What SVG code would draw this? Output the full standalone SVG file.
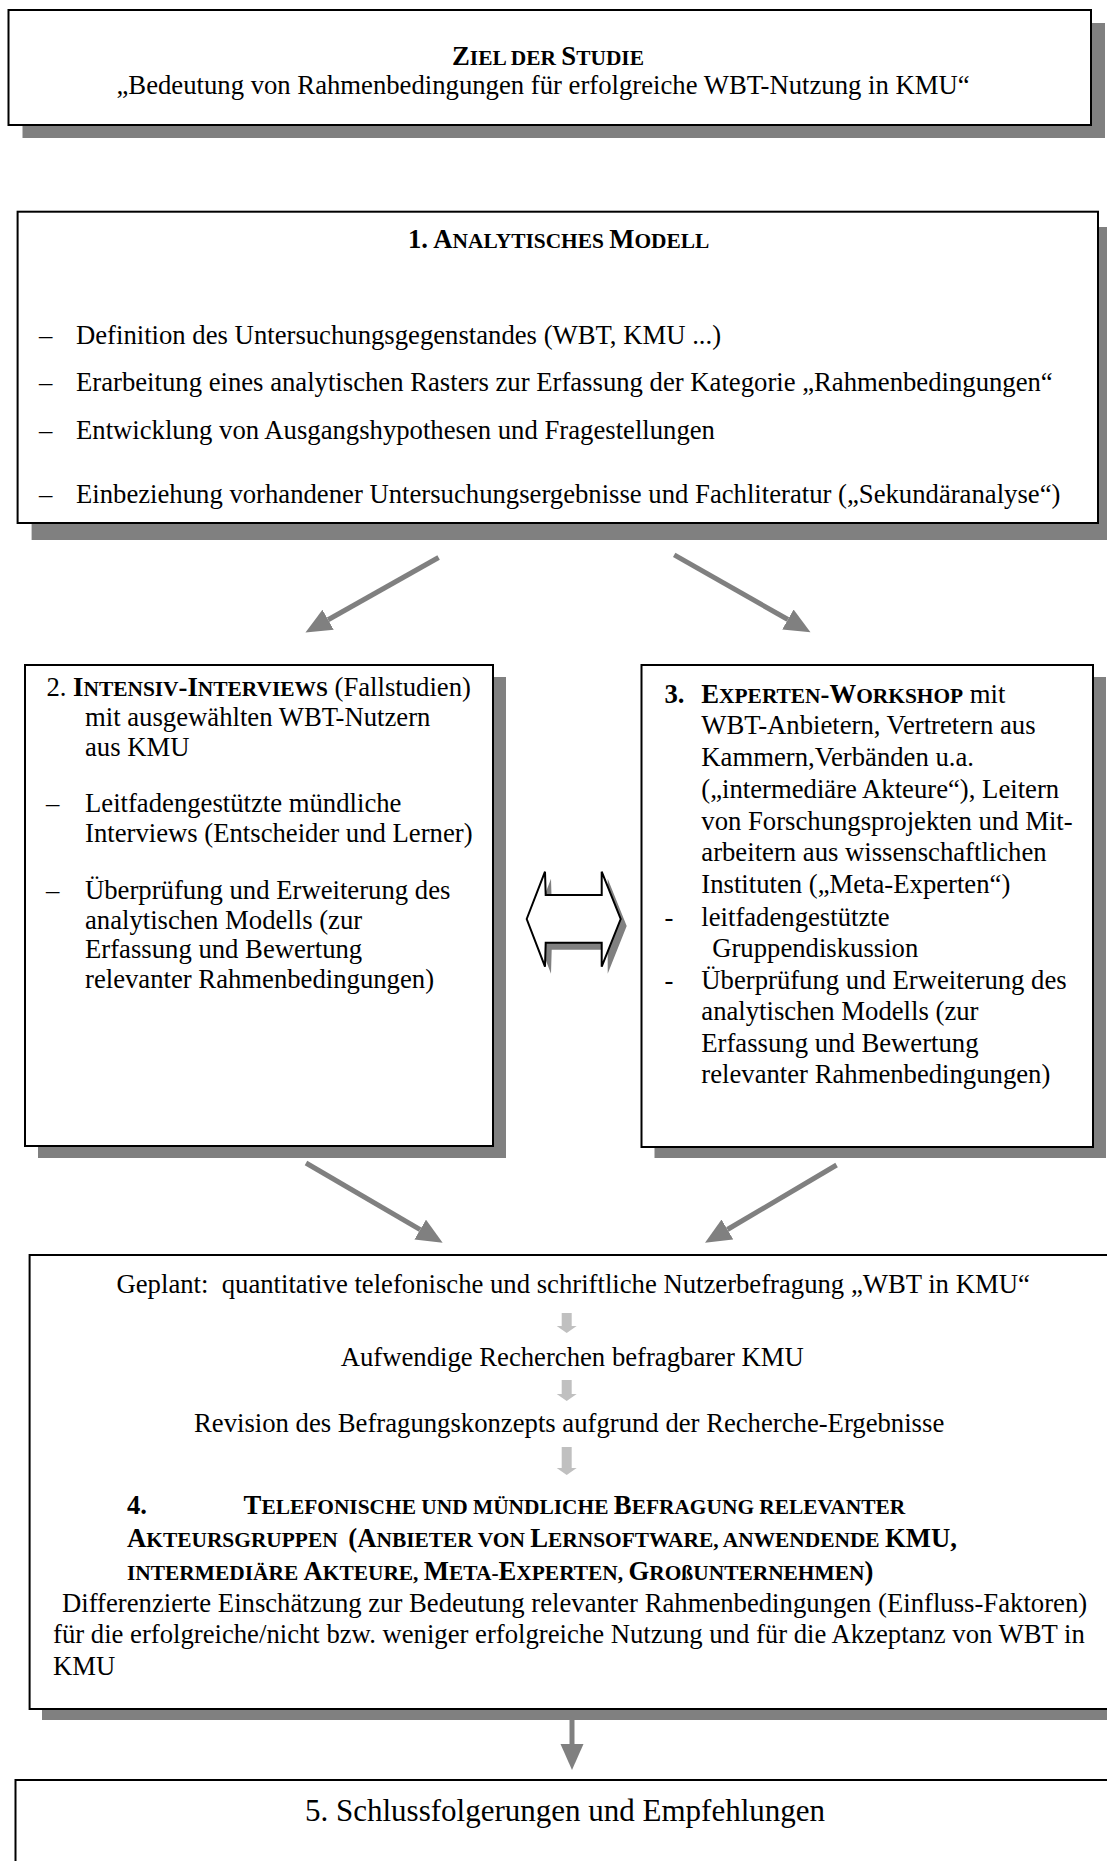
<svg xmlns="http://www.w3.org/2000/svg" width="1107" height="1861" viewBox="0 0 1107 1861">
<style>
.box{fill:#fff;stroke:#000;stroke-width:2}
.sh{fill:#808080}
.t{font-family:'Liberation Serif', 'Times New Roman', serif;font-size:26.7px;fill:#000}
.b{font-weight:bold}
.sc{font-size:21.4px}
.big{font-size:31px}
.conn{stroke:#808080;stroke-width:5;fill:none}
.ah{fill:#808080}
.lite{fill:#c0c0c0}
</style>
<defs>
<marker id="head" markerUnits="userSpaceOnUse" markerWidth="27" markerHeight="24" refX="0" refY="11.5" orient="auto" viewBox="0 0 27 24">
<path d="M0,0 L26,11.5 L0,23 z" class="ah"/>
</marker>
</defs>
<rect width="1107" height="1861" fill="#fff"/>

<g id="node-ziel">
<rect class="sh" x="22.5" y="23" width="1082.5" height="115"/>
<rect class="box" x="8.5" y="10" width="1082.5" height="115"/>
<text class="t b" x="452" y="65">Z<tspan class="sc">IEL DER </tspan>S<tspan class="sc">TUDIE</tspan></text>
<text class="t" x="116.5" y="94.3">„Bedeutung von Rahmenbedingungen für erfolgreiche WBT-Nutzung in KMU“</text>
</g>

<g id="node-modell">
<rect class="sh" x="31.6" y="227" width="1080.4" height="313"/>
<rect class="box" x="17.6" y="211.7" width="1080.4" height="311.3"/>
<text class="t b" x="408" y="248">1. A<tspan class="sc">NALYTISCHES </tspan>M<tspan class="sc">ODELL</tspan></text>
<text class="t" x="39" y="344">–</text>
<text class="t" x="76" y="344">Definition des Untersuchungsgegenstandes (WBT, KMU ...)</text>
<text class="t" x="39" y="390.7">–</text>
<text class="t" x="76" y="390.7">Erarbeitung eines analytischen Rasters zur Erfassung der Kategorie „Rahmenbedingungen“</text>
<text class="t" x="39" y="439">–</text>
<text class="t" x="76" y="439">Entwicklung von Ausgangshypothesen und Fragestellungen</text>
<text class="t" x="39" y="502.7">–</text>
<text class="t" x="76" y="502.7">Einbeziehung vorhandener Untersuchungsergebnisse und Fachliteratur („Sekundäranalyse“)</text>
</g>

<g id="node-interviews">
<rect class="sh" x="38" y="677" width="468" height="481"/>
<rect class="box" x="25" y="665" width="468" height="481"/>
<text class="t" x="46.4" y="696">2. <tspan class="b">I</tspan><tspan class="b sc">NTENSIV</tspan><tspan class="b">-I</tspan><tspan class="b sc">NTERVIEWS</tspan> (Fallstudien)</text>
<text class="t" x="85" y="725.5">mit ausgewählten WBT-Nutzern</text>
<text class="t" x="85" y="755.5">aus KMU</text>
<text class="t" x="46" y="811.5">–</text>
<text class="t" x="85" y="811.5">Leitfadengestützte mündliche</text>
<text class="t" x="85" y="841.5">Interviews (Entscheider und Lerner)</text>
<text class="t" x="46" y="898.5">–</text>
<text class="t" x="85" y="898.5">Überprüfung und Erweiterung des</text>
<text class="t" x="85" y="928.5">analytischen Modells (zur</text>
<text class="t" x="85" y="958">Erfassung und Bewertung</text>
<text class="t" x="85" y="987.5">relevanter Rahmenbedingungen)</text>
</g>

<g id="node-workshop">
<rect class="sh" x="654.5" y="677" width="451.5" height="481"/>
<rect class="box" x="641.5" y="665" width="451.5" height="482"/>
<text class="t b" x="664.5" y="702.5">3.</text>
<text class="t" x="701.3" y="702.5"><tspan class="b">E</tspan><tspan class="b sc">XPERTEN</tspan><tspan class="b">-W</tspan><tspan class="b sc">ORKSHOP</tspan> mit</text>
<text class="t" x="701.3" y="734">WBT-Anbietern, Vertretern aus</text>
<text class="t" x="701.3" y="766">Kammern,Verbänden u.a.</text>
<text class="t" x="701.3" y="798">(„intermediäre Akteure“), Leitern</text>
<text class="t" x="701.3" y="829.5">von Forschungsprojekten und Mit-</text>
<text class="t" x="701.3" y="861">arbeitern aus wissenschaftlichen</text>
<text class="t" x="701.3" y="892.5">Instituten („Meta-Experten“)</text>
<text class="t" x="664.5" y="925.5">-</text>
<text class="t" x="701.3" y="925.5">leitfadengestützte</text>
<text class="t" x="712.2" y="956.5">Gruppendiskussion</text>
<text class="t" x="664.5" y="988.5">-</text>
<text class="t" x="701.3" y="988.5">Überprüfung und Erweiterung des</text>
<text class="t" x="701.3" y="1020">analytischen Modells (zur</text>
<text class="t" x="701.3" y="1051.5">Erfassung und Bewertung</text>
<text class="t" x="701.3" y="1083">relevanter Rahmenbedingungen)</text>
</g>

<g id="node-befragung">
<rect class="sh" x="42" y="1268" width="1080" height="452"/>
<rect class="box" x="29.6" y="1255" width="1090" height="454"/>
<text class="t" x="116.5" y="1293" xml:space="preserve">Geplant:  quantitative telefonische und schriftliche Nutzerbefragung „WBT in KMU“</text>
<path class="lite" d="M561.7,1313 h10 v13 h5 l-10,7 l-10,-7 h5 z"/>
<text class="t" x="340.7" y="1366">Aufwendige Recherchen befragbarer KMU</text>
<path class="lite" d="M561.7,1380 h10 v14 h5 l-10,7 l-10,-7 h5 z"/>
<text class="t" x="194" y="1432">Revision des Befragungskonzepts aufgrund der Recherche-Ergebnisse</text>
<path class="lite" d="M561.7,1447 h10 v21 h5 l-10,7 l-10,-7 h5 z"/>
<text class="t b" x="127" y="1514">4.</text>
<text class="t b" x="243.6" y="1514">T<tspan class="sc">ELEFONISCHE UND MÜNDLICHE </tspan>B<tspan class="sc">EFRAGUNG RELEVANTER</tspan></text>
<text class="t b" x="127" y="1546.7" xml:space="preserve">A<tspan class="sc">KTEURSGRUPPEN  </tspan>(A<tspan class="sc">NBIETER VON </tspan>L<tspan class="sc">ERNSOFTWARE, ANWENDENDE </tspan>KMU,</text>
<text class="t b" x="127" y="1580"><tspan class="sc">INTERMEDIÄRE </tspan>A<tspan class="sc">KTEURE, </tspan>M<tspan class="sc">ETA-</tspan>E<tspan class="sc">XPERTEN, </tspan>G<tspan class="sc">ROßUNTERNEHMEN</tspan>)</text>
<text class="t" x="62" y="1611.7">Differenzierte Einschätzung zur Bedeutung relevanter Rahmenbedingungen (Einfluss-Faktoren)</text>
<text class="t" x="53" y="1643.3">für die erfolgreiche/nicht bzw. weniger erfolgreiche Nutzung und für die Akzeptanz von WBT in</text>
<text class="t" x="53" y="1675">KMU</text>
</g>

<g id="node-schluss">
<rect class="box" x="15.5" y="1780" width="1100" height="100"/>
<text class="t big" x="305" y="1820.7">5. Schlussfolgerungen und Empfehlungen</text>
</g>

<g id="connectors">
<line class="conn" x1="438.6" y1="557.5" x2="328.1" y2="619.7" marker-end="url(#head)"/>
<line class="conn" x1="674.2" y1="554.8" x2="787.9" y2="619.5" marker-end="url(#head)"/>
<line class="conn" x1="306" y1="1163" x2="420.2" y2="1229.6" marker-end="url(#head)"/>
<line class="conn" x1="836.6" y1="1165" x2="727.4" y2="1229.5" marker-end="url(#head)"/>
<line class="conn" x1="572" y1="1720" x2="572" y2="1744" marker-end="url(#head)"/>
<g id="double-arrow">
<polygon class="sh" transform="translate(6,7)" points="526.7,919 545,871.7 545.7,895 601.7,895 601.7,871.7 620.7,919 601.7,966.7 601.7,942.7 545.7,942.7 545,966.7"/>
<polygon class="box" points="526.7,919 545,871.7 545.7,895 601.7,895 601.7,871.7 620.7,919 601.7,966.7 601.7,942.7 545.7,942.7 545,966.7"/>
</g>
</g>
</svg>
